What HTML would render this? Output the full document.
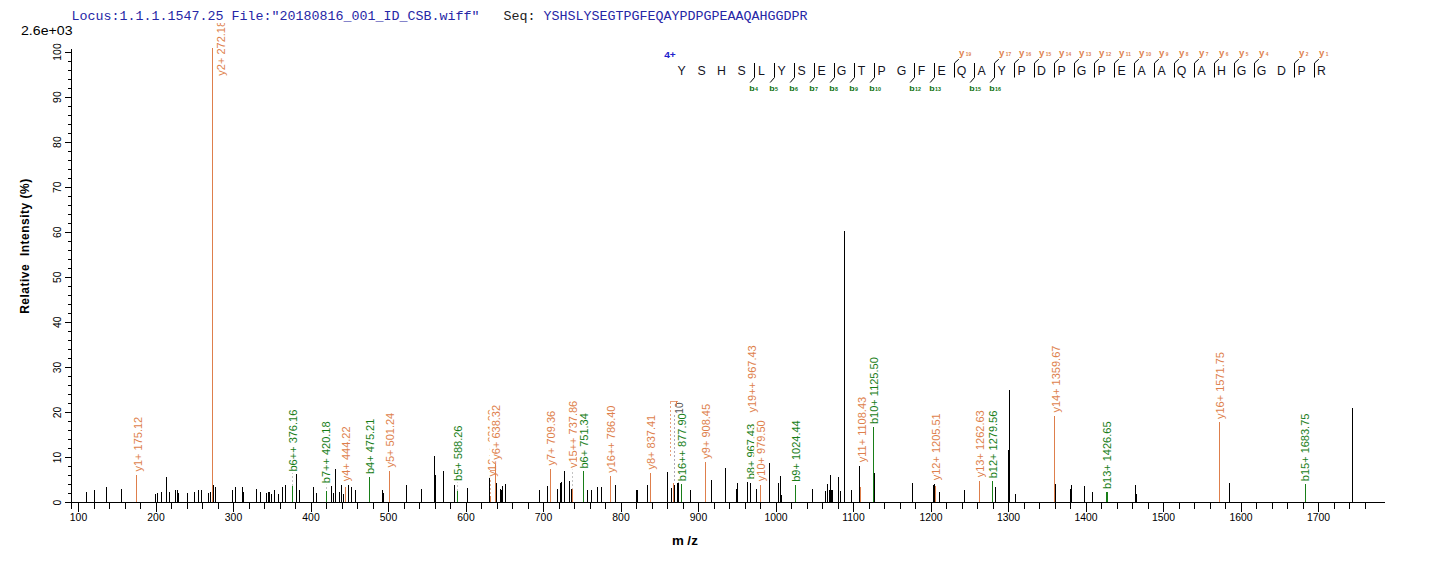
<!DOCTYPE html>
<html><head><meta charset="utf-8"><title>Spectrum</title>
<style>html,body{margin:0;padding:0;background:#fff}svg{display:block}text{font-family:"Liberation Sans",sans-serif}.m{font-family:"Liberation Mono",monospace}</style></head><body>
<svg width="1436" height="562" viewBox="0 0 1436 562">
<rect width="1436" height="562" fill="#fff"/>
<text class="m" x="71.5" y="20" font-size="13.33" fill="#2626a6" xml:space="preserve">Locus:1.1.1.1547.25 File:"20180816_001_ID_CSB.wiff"</text>
<text class="m" x="503.5" y="20" font-size="13.33" fill="#222" xml:space="preserve">Seq:</text>
<text class="m" x="543.5" y="20" font-size="13.33" fill="#2626a6">YSHSLYSEGTPGFEQAYPDPGPEAAQAHGGDPR</text>
<text x="21" y="35" font-size="12" fill="#000" textLength="51.5" lengthAdjust="spacingAndGlyphs">2.6e+03</text>
<g shape-rendering="crispEdges" fill="#000">
<rect x="71" y="49" width="1" height="460"/>
<rect x="65" y="502" width="1320" height="1"/>
<rect x="65" y="502" width="6" height="1"/>
<rect x="68" y="493" width="3" height="1"/>
<rect x="68" y="484" width="3" height="1"/>
<rect x="68" y="475" width="3" height="1"/>
<rect x="68" y="466" width="3" height="1"/>
<rect x="65" y="457" width="6" height="1"/>
<rect x="68" y="448" width="3" height="1"/>
<rect x="68" y="439" width="3" height="1"/>
<rect x="68" y="430" width="3" height="1"/>
<rect x="68" y="421" width="3" height="1"/>
<rect x="65" y="412" width="6" height="1"/>
<rect x="68" y="403" width="3" height="1"/>
<rect x="68" y="394" width="3" height="1"/>
<rect x="68" y="385" width="3" height="1"/>
<rect x="68" y="376" width="3" height="1"/>
<rect x="65" y="367" width="6" height="1"/>
<rect x="68" y="358" width="3" height="1"/>
<rect x="68" y="349" width="3" height="1"/>
<rect x="68" y="340" width="3" height="1"/>
<rect x="68" y="331" width="3" height="1"/>
<rect x="65" y="322" width="6" height="1"/>
<rect x="68" y="313" width="3" height="1"/>
<rect x="68" y="304" width="3" height="1"/>
<rect x="68" y="295" width="3" height="1"/>
<rect x="68" y="286" width="3" height="1"/>
<rect x="65" y="277" width="6" height="1"/>
<rect x="68" y="268" width="3" height="1"/>
<rect x="68" y="259" width="3" height="1"/>
<rect x="68" y="250" width="3" height="1"/>
<rect x="68" y="241" width="3" height="1"/>
<rect x="65" y="232" width="6" height="1"/>
<rect x="68" y="223" width="3" height="1"/>
<rect x="68" y="214" width="3" height="1"/>
<rect x="68" y="205" width="3" height="1"/>
<rect x="68" y="196" width="3" height="1"/>
<rect x="65" y="187" width="6" height="1"/>
<rect x="68" y="178" width="3" height="1"/>
<rect x="68" y="169" width="3" height="1"/>
<rect x="68" y="160" width="3" height="1"/>
<rect x="68" y="151" width="3" height="1"/>
<rect x="65" y="142" width="6" height="1"/>
<rect x="68" y="133" width="3" height="1"/>
<rect x="68" y="124" width="3" height="1"/>
<rect x="68" y="115" width="3" height="1"/>
<rect x="68" y="106" width="3" height="1"/>
<rect x="65" y="97" width="6" height="1"/>
<rect x="68" y="88" width="3" height="1"/>
<rect x="68" y="79" width="3" height="1"/>
<rect x="68" y="70" width="3" height="1"/>
<rect x="68" y="61" width="3" height="1"/>
<rect x="65" y="52" width="6" height="1"/>
<rect x="78" y="502" width="1" height="10"/>
<rect x="94" y="502" width="1" height="7"/>
<rect x="109" y="502" width="1" height="7"/>
<rect x="125" y="502" width="1" height="7"/>
<rect x="140" y="502" width="1" height="7"/>
<rect x="156" y="502" width="1" height="10"/>
<rect x="171" y="502" width="1" height="7"/>
<rect x="187" y="502" width="1" height="7"/>
<rect x="202" y="502" width="1" height="7"/>
<rect x="218" y="502" width="1" height="7"/>
<rect x="233" y="502" width="1" height="10"/>
<rect x="249" y="502" width="1" height="7"/>
<rect x="264" y="502" width="1" height="7"/>
<rect x="280" y="502" width="1" height="7"/>
<rect x="295" y="502" width="1" height="7"/>
<rect x="311" y="502" width="1" height="10"/>
<rect x="326" y="502" width="1" height="7"/>
<rect x="342" y="502" width="1" height="7"/>
<rect x="357" y="502" width="1" height="7"/>
<rect x="373" y="502" width="1" height="7"/>
<rect x="388" y="502" width="1" height="10"/>
<rect x="404" y="502" width="1" height="7"/>
<rect x="419" y="502" width="1" height="7"/>
<rect x="435" y="502" width="1" height="7"/>
<rect x="450" y="502" width="1" height="7"/>
<rect x="466" y="502" width="1" height="10"/>
<rect x="481" y="502" width="1" height="7"/>
<rect x="497" y="502" width="1" height="7"/>
<rect x="512" y="502" width="1" height="7"/>
<rect x="528" y="502" width="1" height="7"/>
<rect x="543" y="502" width="1" height="10"/>
<rect x="559" y="502" width="1" height="7"/>
<rect x="574" y="502" width="1" height="7"/>
<rect x="590" y="502" width="1" height="7"/>
<rect x="605" y="502" width="1" height="7"/>
<rect x="621" y="502" width="1" height="10"/>
<rect x="636" y="502" width="1" height="7"/>
<rect x="652" y="502" width="1" height="7"/>
<rect x="667" y="502" width="1" height="7"/>
<rect x="683" y="502" width="1" height="7"/>
<rect x="698" y="502" width="1" height="10"/>
<rect x="714" y="502" width="1" height="7"/>
<rect x="729" y="502" width="1" height="7"/>
<rect x="745" y="502" width="1" height="7"/>
<rect x="760" y="502" width="1" height="7"/>
<rect x="776" y="502" width="1" height="10"/>
<rect x="791" y="502" width="1" height="7"/>
<rect x="807" y="502" width="1" height="7"/>
<rect x="822" y="502" width="1" height="7"/>
<rect x="838" y="502" width="1" height="7"/>
<rect x="853" y="502" width="1" height="10"/>
<rect x="869" y="502" width="1" height="7"/>
<rect x="884" y="502" width="1" height="7"/>
<rect x="900" y="502" width="1" height="7"/>
<rect x="915" y="502" width="1" height="7"/>
<rect x="931" y="502" width="1" height="10"/>
<rect x="946" y="502" width="1" height="7"/>
<rect x="962" y="502" width="1" height="7"/>
<rect x="977" y="502" width="1" height="7"/>
<rect x="993" y="502" width="1" height="7"/>
<rect x="1008" y="502" width="1" height="10"/>
<rect x="1024" y="502" width="1" height="7"/>
<rect x="1039" y="502" width="1" height="7"/>
<rect x="1055" y="502" width="1" height="7"/>
<rect x="1070" y="502" width="1" height="7"/>
<rect x="1086" y="502" width="1" height="10"/>
<rect x="1101" y="502" width="1" height="7"/>
<rect x="1117" y="502" width="1" height="7"/>
<rect x="1132" y="502" width="1" height="7"/>
<rect x="1148" y="502" width="1" height="7"/>
<rect x="1163" y="502" width="1" height="10"/>
<rect x="1179" y="502" width="1" height="7"/>
<rect x="1194" y="502" width="1" height="7"/>
<rect x="1210" y="502" width="1" height="7"/>
<rect x="1225" y="502" width="1" height="7"/>
<rect x="1241" y="502" width="1" height="10"/>
<rect x="1256" y="502" width="1" height="7"/>
<rect x="1272" y="502" width="1" height="7"/>
<rect x="1287" y="502" width="1" height="7"/>
<rect x="1303" y="502" width="1" height="7"/>
<rect x="1318" y="502" width="1" height="10"/>
<rect x="1334" y="502" width="1" height="7"/>
<rect x="1349" y="502" width="1" height="7"/>
<rect x="1365" y="502" width="1" height="7"/>
</g>
<text transform="translate(61.3,502.5) rotate(-90)" text-anchor="middle" font-size="10.4" fill="#000">0</text>
<text transform="translate(61.3,457.4) rotate(-90)" text-anchor="middle" font-size="10.4" fill="#000">10</text>
<text transform="translate(61.3,412.4) rotate(-90)" text-anchor="middle" font-size="10.4" fill="#000">20</text>
<text transform="translate(61.3,367.4) rotate(-90)" text-anchor="middle" font-size="10.4" fill="#000">30</text>
<text transform="translate(61.3,322.3) rotate(-90)" text-anchor="middle" font-size="10.4" fill="#000">40</text>
<text transform="translate(61.3,277.2) rotate(-90)" text-anchor="middle" font-size="10.4" fill="#000">50</text>
<text transform="translate(61.3,232.2) rotate(-90)" text-anchor="middle" font-size="10.4" fill="#000">60</text>
<text transform="translate(61.3,187.2) rotate(-90)" text-anchor="middle" font-size="10.4" fill="#000">70</text>
<text transform="translate(61.3,142.1) rotate(-90)" text-anchor="middle" font-size="10.4" fill="#000">80</text>
<text transform="translate(61.3,97.1) rotate(-90)" text-anchor="middle" font-size="10.4" fill="#000">90</text>
<text transform="translate(61.3,52.0) rotate(-90)" text-anchor="middle" font-size="10.4" fill="#000">100</text>
<text x="78.5" y="521.4" text-anchor="middle" font-size="10.4" fill="#000">100</text>
<text x="156.0" y="521.4" text-anchor="middle" font-size="10.4" fill="#000">200</text>
<text x="233.5" y="521.4" text-anchor="middle" font-size="10.4" fill="#000">300</text>
<text x="311.0" y="521.4" text-anchor="middle" font-size="10.4" fill="#000">400</text>
<text x="388.5" y="521.4" text-anchor="middle" font-size="10.4" fill="#000">500</text>
<text x="466.0" y="521.4" text-anchor="middle" font-size="10.4" fill="#000">600</text>
<text x="543.5" y="521.4" text-anchor="middle" font-size="10.4" fill="#000">700</text>
<text x="621.0" y="521.4" text-anchor="middle" font-size="10.4" fill="#000">800</text>
<text x="698.5" y="521.4" text-anchor="middle" font-size="10.4" fill="#000">900</text>
<text x="776.0" y="521.4" text-anchor="middle" font-size="10.4" fill="#000">1000</text>
<text x="853.5" y="521.4" text-anchor="middle" font-size="10.4" fill="#000">1100</text>
<text x="931.0" y="521.4" text-anchor="middle" font-size="10.4" fill="#000">1200</text>
<text x="1008.5" y="521.4" text-anchor="middle" font-size="10.4" fill="#000">1300</text>
<text x="1086.0" y="521.4" text-anchor="middle" font-size="10.4" fill="#000">1400</text>
<text x="1163.5" y="521.4" text-anchor="middle" font-size="10.4" fill="#000">1500</text>
<text x="1241.0" y="521.4" text-anchor="middle" font-size="10.4" fill="#000">1600</text>
<text x="1318.5" y="521.4" text-anchor="middle" font-size="10.4" fill="#000">1700</text>
<text transform="translate(28.6,246.3) rotate(-90)" text-anchor="middle" font-size="12" font-weight="bold" fill="#000" xml:space="preserve" textLength="135" lengthAdjust="spacing">Relative  Intensity (%)</text>
<text y="544.5" font-size="13.33" font-weight="bold" fill="#000"><tspan x="672">m</tspan><tspan x="687.2">/</tspan><tspan x="691.3">z</tspan></text>
<g shape-rendering="crispEdges">
<line x1="292.5" y1="471.5" x2="292.5" y2="486.0" stroke="#c4c4c4" stroke-width="1" stroke-dasharray="2,2"/>
<line x1="326.5" y1="483.0" x2="326.5" y2="491.0" stroke="#c4c4c4" stroke-width="1" stroke-dasharray="2,2"/>
<line x1="457.5" y1="481.0" x2="457.5" y2="491.5" stroke="#c4c4c4" stroke-width="1" stroke-dasharray="2,2"/>
<line x1="489.5" y1="455.0" x2="489.5" y2="476.0" stroke="#c4c4c4" stroke-width="1" stroke-dasharray="2,2"/>
<line x1="490.5" y1="476.0" x2="490.5" y2="496.0" stroke="#e8b090" stroke-width="1" stroke-dasharray="2,2"/>
<line x1="572.5" y1="468.0" x2="572.5" y2="489.0" stroke="#c4c4c4" stroke-width="1" stroke-dasharray="2,2"/>
<line x1="674.5" y1="415.0" x2="674.5" y2="482.0" stroke="#b0a8b8" stroke-width="1" stroke-dasharray="2,2"/>
<line x1="670.5" y1="402.0" x2="670.5" y2="457.0" stroke="#e8a07a" stroke-width="1" stroke-dasharray="2,2"/>
<line x1="859.5" y1="466.0" x2="859.5" y2="487.0" stroke="#c4c4c4" stroke-width="1" stroke-dasharray="2,2"/>
<rect x="670" y="401" width="8" height="1" fill="#e8a07a"/>
<rect x="490" y="470" width="6" height="1" fill="#e8a07a"/>
</g>
<g shape-rendering="crispEdges">
<rect x="86" y="492" width="1" height="10" fill="#000"/>
<rect x="94" y="490" width="1" height="12" fill="#000"/>
<rect x="106" y="487" width="1" height="15" fill="#000"/>
<rect x="121" y="489" width="1" height="13" fill="#000"/>
<rect x="136" y="475" width="1" height="27" fill="#de7f4c"/>
<rect x="155" y="494" width="1" height="8" fill="#000"/>
<rect x="157" y="493" width="1" height="9" fill="#000"/>
<rect x="161" y="492" width="1" height="10" fill="#000"/>
<rect x="166" y="477" width="1" height="25" fill="#000"/>
<rect x="169" y="492" width="1" height="10" fill="#000"/>
<rect x="175" y="490" width="1" height="12" fill="#000"/>
<rect x="177" y="490" width="1" height="12" fill="#000"/>
<rect x="178" y="493" width="1" height="9" fill="#000"/>
<rect x="187" y="493" width="1" height="9" fill="#000"/>
<rect x="194" y="492" width="1" height="10" fill="#000"/>
<rect x="198" y="490" width="1" height="12" fill="#000"/>
<rect x="201" y="490" width="1" height="12" fill="#000"/>
<rect x="208" y="493" width="1" height="9" fill="#000"/>
<rect x="210" y="492" width="1" height="10" fill="#000"/>
<rect x="213" y="485" width="1" height="17" fill="#000"/>
<rect x="215" y="487" width="1" height="15" fill="#000"/>
<rect x="212" y="48" width="1" height="454" fill="#de7f4c"/>
<rect x="232" y="490" width="1" height="12" fill="#000"/>
<rect x="235" y="487" width="1" height="15" fill="#000"/>
<rect x="242" y="487" width="1" height="15" fill="#000"/>
<rect x="243" y="492" width="1" height="10" fill="#000"/>
<rect x="256" y="489" width="1" height="13" fill="#000"/>
<rect x="260" y="492" width="1" height="10" fill="#000"/>
<rect x="266" y="493" width="1" height="9" fill="#000"/>
<rect x="268" y="492" width="1" height="10" fill="#000"/>
<rect x="269" y="492" width="1" height="10" fill="#000"/>
<rect x="271" y="494" width="1" height="8" fill="#000"/>
<rect x="274" y="490" width="1" height="12" fill="#000"/>
<rect x="278" y="494" width="1" height="8" fill="#000"/>
<rect x="282" y="487" width="1" height="15" fill="#000"/>
<rect x="285" y="485" width="1" height="17" fill="#000"/>
<rect x="292" y="486" width="1" height="16" fill="#187e18"/>
<rect x="296" y="474" width="1" height="28" fill="#000"/>
<rect x="299" y="490" width="1" height="12" fill="#000"/>
<rect x="313" y="487" width="1" height="15" fill="#000"/>
<rect x="316" y="493" width="1" height="9" fill="#000"/>
<rect x="326" y="491" width="1" height="11" fill="#187e18"/>
<rect x="331" y="486" width="1" height="16" fill="#000"/>
<rect x="333" y="493" width="1" height="9" fill="#000"/>
<rect x="335" y="469" width="1" height="33" fill="#000"/>
<rect x="339" y="492" width="1" height="10" fill="#000"/>
<rect x="341" y="485" width="1" height="17" fill="#000"/>
<rect x="343" y="494" width="1" height="8" fill="#000"/>
<rect x="345" y="487" width="1" height="15" fill="#de7f4c"/>
<rect x="348" y="485" width="1" height="17" fill="#000"/>
<rect x="351" y="487" width="1" height="15" fill="#000"/>
<rect x="355" y="490" width="1" height="12" fill="#000"/>
<rect x="369" y="477" width="1" height="25" fill="#187e18"/>
<rect x="382" y="490" width="1" height="12" fill="#000"/>
<rect x="383" y="493" width="1" height="9" fill="#000"/>
<rect x="389" y="471" width="1" height="31" fill="#de7f4c"/>
<rect x="406" y="485" width="1" height="17" fill="#000"/>
<rect x="421" y="489" width="1" height="13" fill="#000"/>
<rect x="434" y="456" width="1" height="46" fill="#000"/>
<rect x="435" y="475" width="1" height="27" fill="#000"/>
<rect x="443" y="471" width="1" height="31" fill="#000"/>
<rect x="454" y="485" width="1" height="17" fill="#000"/>
<rect x="457" y="491" width="1" height="11" fill="#187e18"/>
<rect x="467" y="488" width="1" height="14" fill="#000"/>
<rect x="489" y="476" width="1" height="26" fill="#000"/>
<rect x="490" y="496" width="1" height="6" fill="#de7f4c"/>
<rect x="495" y="464" width="1" height="38" fill="#de7f4c"/>
<rect x="496" y="483" width="1" height="19" fill="#000"/>
<rect x="500" y="489" width="1" height="13" fill="#000"/>
<rect x="501" y="490" width="1" height="12" fill="#000"/>
<rect x="502" y="486" width="1" height="16" fill="#000"/>
<rect x="505" y="484" width="1" height="18" fill="#000"/>
<rect x="539" y="490" width="1" height="12" fill="#000"/>
<rect x="547" y="486" width="1" height="16" fill="#000"/>
<rect x="550" y="469" width="1" height="33" fill="#de7f4c"/>
<rect x="557" y="489" width="1" height="13" fill="#000"/>
<rect x="560" y="483" width="1" height="19" fill="#000"/>
<rect x="561" y="482" width="1" height="20" fill="#000"/>
<rect x="564" y="471" width="1" height="31" fill="#000"/>
<rect x="569" y="481" width="1" height="21" fill="#000"/>
<rect x="571" y="489" width="1" height="13" fill="#000"/>
<rect x="572" y="489" width="1" height="13" fill="#de7f4c"/>
<rect x="583" y="471" width="1" height="31" fill="#187e18"/>
<rect x="587" y="490" width="1" height="12" fill="#000"/>
<rect x="591" y="490" width="1" height="12" fill="#000"/>
<rect x="597" y="487" width="1" height="15" fill="#000"/>
<rect x="601" y="487" width="1" height="15" fill="#000"/>
<rect x="610" y="476" width="1" height="26" fill="#de7f4c"/>
<rect x="615" y="485" width="1" height="17" fill="#000"/>
<rect x="636" y="490" width="1" height="12" fill="#000"/>
<rect x="637" y="490" width="1" height="12" fill="#000"/>
<rect x="647" y="485" width="1" height="17" fill="#000"/>
<rect x="650" y="473" width="1" height="29" fill="#de7f4c"/>
<rect x="667" y="472" width="1" height="30" fill="#000"/>
<rect x="671" y="488" width="1" height="14" fill="#000"/>
<rect x="673" y="483" width="1" height="19" fill="#de7f4c"/>
<rect x="674" y="485" width="1" height="17" fill="#000"/>
<rect x="677" y="483" width="1" height="19" fill="#000"/>
<rect x="678" y="482" width="1" height="20" fill="#000"/>
<rect x="681" y="484" width="1" height="18" fill="#187e18"/>
<rect x="690" y="490" width="1" height="12" fill="#000"/>
<rect x="705" y="462" width="1" height="40" fill="#de7f4c"/>
<rect x="711" y="480" width="1" height="22" fill="#000"/>
<rect x="725" y="468" width="1" height="34" fill="#000"/>
<rect x="736" y="489" width="1" height="13" fill="#000"/>
<rect x="737" y="483" width="1" height="19" fill="#000"/>
<rect x="747" y="482" width="1" height="20" fill="#000"/>
<rect x="750" y="483" width="1" height="19" fill="#000"/>
<rect x="756" y="489" width="1" height="13" fill="#000"/>
<rect x="760" y="485" width="1" height="17" fill="#de7f4c"/>
<rect x="769" y="463" width="1" height="39" fill="#000"/>
<rect x="778" y="483" width="1" height="19" fill="#000"/>
<rect x="780" y="476" width="1" height="26" fill="#000"/>
<rect x="781" y="495" width="1" height="7" fill="#000"/>
<rect x="795" y="485" width="1" height="17" fill="#187e18"/>
<rect x="812" y="489" width="1" height="13" fill="#000"/>
<rect x="825" y="491" width="1" height="11" fill="#000"/>
<rect x="827" y="484" width="1" height="18" fill="#000"/>
<rect x="829" y="490" width="1" height="12" fill="#000"/>
<rect x="830" y="475" width="1" height="27" fill="#000"/>
<rect x="831" y="490" width="1" height="12" fill="#000"/>
<rect x="832" y="490" width="1" height="12" fill="#000"/>
<rect x="838" y="477" width="1" height="25" fill="#000"/>
<rect x="840" y="491" width="1" height="11" fill="#000"/>
<rect x="844" y="231" width="1" height="271" fill="#000"/>
<rect x="851" y="490" width="1" height="12" fill="#000"/>
<rect x="859" y="466" width="1" height="36" fill="#000"/>
<rect x="860" y="487" width="1" height="15" fill="#de7f4c"/>
<rect x="873" y="427" width="1" height="75" fill="#187e18"/>
<rect x="874" y="473" width="1" height="29" fill="#000"/>
<rect x="912" y="483" width="1" height="19" fill="#000"/>
<rect x="933" y="485" width="1" height="17" fill="#000"/>
<rect x="934" y="484" width="1" height="18" fill="#000"/>
<rect x="935" y="486" width="1" height="16" fill="#de7f4c"/>
<rect x="939" y="492" width="1" height="10" fill="#000"/>
<rect x="964" y="490" width="1" height="12" fill="#000"/>
<rect x="979" y="481" width="1" height="21" fill="#de7f4c"/>
<rect x="992" y="481" width="1" height="21" fill="#187e18"/>
<rect x="995" y="487" width="1" height="15" fill="#000"/>
<rect x="1008" y="450" width="1" height="52" fill="#000"/>
<rect x="1009" y="390" width="1" height="112" fill="#000"/>
<rect x="1015" y="494" width="1" height="8" fill="#000"/>
<rect x="1054" y="416" width="1" height="86" fill="#de7f4c"/>
<rect x="1055" y="484" width="1" height="18" fill="#000"/>
<rect x="1070" y="489" width="1" height="13" fill="#000"/>
<rect x="1071" y="485" width="1" height="17" fill="#000"/>
<rect x="1084" y="486" width="1" height="16" fill="#000"/>
<rect x="1092" y="492" width="1" height="10" fill="#000"/>
<rect x="1106" y="492" width="1" height="10" fill="#187e18"/>
<rect x="1107" y="492" width="1" height="10" fill="#187e18"/>
<rect x="1135" y="485" width="1" height="17" fill="#000"/>
<rect x="1136" y="494" width="1" height="8" fill="#000"/>
<rect x="1219" y="422" width="1" height="80" fill="#de7f4c"/>
<rect x="1229" y="483" width="1" height="19" fill="#000"/>
<rect x="1305" y="484" width="1" height="18" fill="#187e18"/>
<rect x="1352" y="408" width="1" height="94" fill="#000"/>
</g>
<text transform="translate(682.6,419.5) rotate(-90)" font-size="10" fill="#555">+10</text>
<rect x="676" y="401" width="1" height="5" fill="#de7f4c"/>
<rect x="130.8" y="417.3" width="14" height="55.7" fill="#fff"/>
<text transform="translate(141.5,471.5) rotate(-90)" font-size="11.0" fill="#de7f4c">y1+ 175.12</text>
<rect x="286.5" y="410.2" width="14" height="62.8" fill="#fff"/>
<text transform="translate(297.2,471.5) rotate(-90)" font-size="11.0" fill="#187e18">b6++ 376.16</text>
<rect x="319.7" y="421.9" width="14" height="62.8" fill="#fff"/>
<text transform="translate(330.4,483.2) rotate(-90)" font-size="11.0" fill="#187e18">b7++ 420.18</text>
<rect x="339.3" y="427.0" width="14" height="55.7" fill="#fff"/>
<text transform="translate(350.0,481.2) rotate(-90)" font-size="11.0" fill="#de7f4c">y4+ 444.22</text>
<rect x="363.2" y="419.1" width="14" height="56.4" fill="#fff"/>
<text transform="translate(373.9,474.0) rotate(-90)" font-size="11.0" fill="#187e18">b4+ 475.21</text>
<rect x="383.3" y="413.3" width="14" height="55.7" fill="#fff"/>
<text transform="translate(394.0,467.5) rotate(-90)" font-size="11.0" fill="#de7f4c">y5+ 501.24</text>
<rect x="451.3" y="426.0" width="14" height="56.4" fill="#fff"/>
<text transform="translate(462.0,480.9) rotate(-90)" font-size="11.0" fill="#187e18">b5+ 588.26</text>
<rect x="485.1" y="409.6" width="14" height="68.3" fill="#fff"/>
<text transform="translate(495.8,476.4) rotate(-90)" font-size="11.0" fill="#de7f4c">y12++ 631.22</text>
<rect x="489.6" y="405.5" width="14" height="55.7" fill="#fff"/>
<text transform="translate(500.3,459.7) rotate(-90)" font-size="11.0" fill="#de7f4c">y6+ 638.32</text>
<rect x="543.8" y="411.4" width="14" height="55.7" fill="#fff"/>
<text transform="translate(554.5,465.6) rotate(-90)" font-size="11.0" fill="#de7f4c">y7+ 709.36</text>
<rect x="565.8" y="401.3" width="14" height="68.3" fill="#fff"/>
<text transform="translate(576.5,468.1) rotate(-90)" font-size="11.0" fill="#de7f4c">y15++ 737.86</text>
<rect x="577.1" y="413.6" width="14" height="56.4" fill="#fff"/>
<text transform="translate(587.8,468.5) rotate(-90)" font-size="11.0" fill="#187e18">b6+ 751.34</text>
<rect x="604.1" y="406.0" width="14" height="68.3" fill="#fff"/>
<text transform="translate(614.8,472.8) rotate(-90)" font-size="11.0" fill="#de7f4c">y16++ 786.40</text>
<rect x="644.1" y="415.3" width="14" height="55.7" fill="#fff"/>
<text transform="translate(654.8,469.5) rotate(-90)" font-size="11.0" fill="#de7f4c">y8+ 837.41</text>
<rect x="675.0" y="413.8" width="14" height="68.9" fill="#fff"/>
<text transform="translate(685.7,481.2) rotate(-90)" font-size="11.0" fill="#187e18">b16++ 877.90</text>
<rect x="699.1" y="404.5" width="14" height="55.7" fill="#fff"/>
<text transform="translate(709.8,458.7) rotate(-90)" font-size="11.0" fill="#de7f4c">y9+ 908.45</text>
<rect x="744.1" y="424.4" width="14" height="56.4" fill="#fff"/>
<text transform="translate(754.8,479.3) rotate(-90)" font-size="11.0" fill="#187e18">b8+ 967.43</text>
<rect x="744.9" y="345.8" width="14" height="68.3" fill="#fff"/>
<text transform="translate(755.6,412.6) rotate(-90)" font-size="11.0" fill="#de7f4c">y19++ 967.43</text>
<rect x="754.2" y="420.8" width="14" height="61.9" fill="#fff"/>
<text transform="translate(764.9,481.2) rotate(-90)" font-size="11.0" fill="#de7f4c">y10+ 979.50</text>
<rect x="789.1" y="420.8" width="14" height="62.5" fill="#fff"/>
<text transform="translate(799.8,481.8) rotate(-90)" font-size="11.0" fill="#187e18">b9+ 1024.44</text>
<rect x="855.0" y="395.7" width="14" height="68.0" fill="#fff"/>
<text transform="translate(865.7,462.2) rotate(-90)" font-size="11.0" fill="#de7f4c">y11+ 1108.43</text>
<rect x="867.2" y="356.9" width="14" height="68.6" fill="#fff"/>
<text transform="translate(877.9,424.0) rotate(-90)" font-size="11.0" fill="#187e18">b10+ 1125.50</text>
<rect x="929.5" y="413.8" width="14" height="68.0" fill="#fff"/>
<text transform="translate(940.2,480.3) rotate(-90)" font-size="11.0" fill="#de7f4c">y12+ 1205.51</text>
<rect x="973.5" y="410.8" width="14" height="68.0" fill="#fff"/>
<text transform="translate(984.2,477.3) rotate(-90)" font-size="11.0" fill="#de7f4c">y13+ 1262.63</text>
<rect x="986.6" y="411.2" width="14" height="68.6" fill="#fff"/>
<text transform="translate(997.3,478.3) rotate(-90)" font-size="11.0" fill="#187e18">b12+ 1279.56</text>
<rect x="1049.0" y="346.1" width="14" height="68.0" fill="#fff"/>
<text transform="translate(1059.7,412.6) rotate(-90)" font-size="11.0" fill="#de7f4c">y14+ 1359.67</text>
<rect x="1100.7" y="422.0" width="14" height="68.6" fill="#fff"/>
<text transform="translate(1111.4,489.1) rotate(-90)" font-size="11.0" fill="#187e18">b13+ 1426.65</text>
<rect x="1213.5" y="352.5" width="14" height="68.0" fill="#fff"/>
<text transform="translate(1224.2,419.0) rotate(-90)" font-size="11.0" fill="#de7f4c">y16+ 1571.75</text>
<rect x="1298.7" y="414.1" width="14" height="68.6" fill="#fff"/>
<text transform="translate(1309.4,481.2) rotate(-90)" font-size="11.0" fill="#187e18">b15+ 1683.75</text>
<rect x="495" y="464" width="1" height="16" fill="#de7f4c" shape-rendering="crispEdges"/>
<rect x="490" y="470" width="5" height="1" fill="#e8a07a" shape-rendering="crispEdges"/>
<clipPath id="c1"><rect x="200" y="23" width="40" height="60"/></clipPath>
<g clip-path="url(#c1)"><text transform="translate(225.2,75.7) rotate(-90)" font-size="11.0" fill="#de7f4c">y2+ 272.18</text></g>
<text x="681.5" y="74.5" text-anchor="middle" font-size="12.3" fill="#15151f">Y</text>
<text x="701.5" y="74.5" text-anchor="middle" font-size="12.3" fill="#15151f">S</text>
<text x="721.5" y="74.5" text-anchor="middle" font-size="12.3" fill="#15151f">H</text>
<text x="741.5" y="74.5" text-anchor="middle" font-size="12.3" fill="#15151f">S</text>
<text x="761.5" y="74.5" text-anchor="middle" font-size="12.3" fill="#15151f">L</text>
<text x="781.5" y="74.5" text-anchor="middle" font-size="12.3" fill="#15151f">Y</text>
<text x="801.5" y="74.5" text-anchor="middle" font-size="12.3" fill="#15151f">S</text>
<text x="821.5" y="74.5" text-anchor="middle" font-size="12.3" fill="#15151f">E</text>
<text x="841.5" y="74.5" text-anchor="middle" font-size="12.3" fill="#15151f">G</text>
<text x="861.5" y="74.5" text-anchor="middle" font-size="12.3" fill="#15151f">T</text>
<text x="881.5" y="74.5" text-anchor="middle" font-size="12.3" fill="#15151f">P</text>
<text x="901.5" y="74.5" text-anchor="middle" font-size="12.3" fill="#15151f">G</text>
<text x="921.5" y="74.5" text-anchor="middle" font-size="12.3" fill="#15151f">F</text>
<text x="941.5" y="74.5" text-anchor="middle" font-size="12.3" fill="#15151f">E</text>
<text x="961.5" y="74.5" text-anchor="middle" font-size="12.3" fill="#15151f">Q</text>
<text x="981.5" y="74.5" text-anchor="middle" font-size="12.3" fill="#15151f">A</text>
<text x="1001.5" y="74.5" text-anchor="middle" font-size="12.3" fill="#15151f">Y</text>
<text x="1021.5" y="74.5" text-anchor="middle" font-size="12.3" fill="#15151f">P</text>
<text x="1041.5" y="74.5" text-anchor="middle" font-size="12.3" fill="#15151f">D</text>
<text x="1061.5" y="74.5" text-anchor="middle" font-size="12.3" fill="#15151f">P</text>
<text x="1081.5" y="74.5" text-anchor="middle" font-size="12.3" fill="#15151f">G</text>
<text x="1101.5" y="74.5" text-anchor="middle" font-size="12.3" fill="#15151f">P</text>
<text x="1121.5" y="74.5" text-anchor="middle" font-size="12.3" fill="#15151f">E</text>
<text x="1141.5" y="74.5" text-anchor="middle" font-size="12.3" fill="#15151f">A</text>
<text x="1161.5" y="74.5" text-anchor="middle" font-size="12.3" fill="#15151f">A</text>
<text x="1181.5" y="74.5" text-anchor="middle" font-size="12.3" fill="#15151f">Q</text>
<text x="1201.5" y="74.5" text-anchor="middle" font-size="12.3" fill="#15151f">A</text>
<text x="1221.5" y="74.5" text-anchor="middle" font-size="12.3" fill="#15151f">H</text>
<text x="1241.5" y="74.5" text-anchor="middle" font-size="12.3" fill="#15151f">G</text>
<text x="1261.5" y="74.5" text-anchor="middle" font-size="12.3" fill="#15151f">G</text>
<text x="1281.5" y="74.5" text-anchor="middle" font-size="12.3" fill="#15151f">D</text>
<text x="1301.5" y="74.5" text-anchor="middle" font-size="12.3" fill="#15151f">P</text>
<text x="1321.5" y="74.5" text-anchor="middle" font-size="12.3" fill="#15151f">R</text>
<text x="664.2" y="57.6" font-size="8.6" font-weight="bold" fill="#2222cc" textLength="11.6" lengthAdjust="spacingAndGlyphs">4+</text>
<g stroke="#000" stroke-width="1" fill="none">
<path d="M754.5 63 V77.5 L750.2 82.5"/>
<path d="M774.5 63 V77.5 L770.2 82.5"/>
<path d="M794.5 63 V77.5 L790.2 82.5"/>
<path d="M814.5 63 V77.5 L810.2 82.5"/>
<path d="M834.5 63 V77.5 L830.2 82.5"/>
<path d="M854.5 63 V77.5 L850.2 82.5"/>
<path d="M874.5 63 V77.5 L870.2 82.5"/>
<path d="M914.5 63 V77.5 L910.2 82.5"/>
<path d="M934.5 63 V77.5 L930.2 82.5"/>
<path d="M974.5 63 V77.5 L970.2 82.5"/>
<path d="M994.5 63 V77.5 L990.2 82.5"/>
<path d="M954.5 77.5 V63 L958.8 59.2"/>
<path d="M994.5 77.5 V63 L998.8 59.2"/>
<path d="M1014.5 77.5 V63 L1018.8 59.2"/>
<path d="M1034.5 77.5 V63 L1038.8 59.2"/>
<path d="M1054.5 77.5 V63 L1058.8 59.2"/>
<path d="M1074.5 77.5 V63 L1078.8 59.2"/>
<path d="M1094.5 77.5 V63 L1098.8 59.2"/>
<path d="M1114.5 77.5 V63 L1118.8 59.2"/>
<path d="M1134.5 77.5 V63 L1138.8 59.2"/>
<path d="M1154.5 77.5 V63 L1158.8 59.2"/>
<path d="M1174.5 77.5 V63 L1178.8 59.2"/>
<path d="M1194.5 77.5 V63 L1198.8 59.2"/>
<path d="M1214.5 77.5 V63 L1218.8 59.2"/>
<path d="M1234.5 77.5 V63 L1238.8 59.2"/>
<path d="M1254.5 77.5 V63 L1258.8 59.2"/>
<path d="M1294.5 77.5 V63 L1298.8 59.2"/>
<path d="M1314.5 77.5 V63 L1318.8 59.2"/>
</g>
<text transform="translate(749.2,90.8) scale(1.1,1)" font-size="8.1" font-weight="bold" fill="#0f720f">b</text>
<text x="755.0" y="90.8" font-size="5.3" font-weight="bold" fill="#0f720f">4</text>
<text transform="translate(769.2,90.8) scale(1.1,1)" font-size="8.1" font-weight="bold" fill="#0f720f">b</text>
<text x="775.0" y="90.8" font-size="5.3" font-weight="bold" fill="#0f720f">5</text>
<text transform="translate(789.2,90.8) scale(1.1,1)" font-size="8.1" font-weight="bold" fill="#0f720f">b</text>
<text x="795.0" y="90.8" font-size="5.3" font-weight="bold" fill="#0f720f">6</text>
<text transform="translate(809.2,90.8) scale(1.1,1)" font-size="8.1" font-weight="bold" fill="#0f720f">b</text>
<text x="815.0" y="90.8" font-size="5.3" font-weight="bold" fill="#0f720f">7</text>
<text transform="translate(829.2,90.8) scale(1.1,1)" font-size="8.1" font-weight="bold" fill="#0f720f">b</text>
<text x="835.0" y="90.8" font-size="5.3" font-weight="bold" fill="#0f720f">8</text>
<text transform="translate(849.2,90.8) scale(1.1,1)" font-size="8.1" font-weight="bold" fill="#0f720f">b</text>
<text x="855.0" y="90.8" font-size="5.3" font-weight="bold" fill="#0f720f">9</text>
<text transform="translate(869.2,90.8) scale(1.1,1)" font-size="8.1" font-weight="bold" fill="#0f720f">b</text>
<text x="875.0" y="90.8" font-size="5.3" font-weight="bold" fill="#0f720f">10</text>
<text transform="translate(909.2,90.8) scale(1.1,1)" font-size="8.1" font-weight="bold" fill="#0f720f">b</text>
<text x="915.0" y="90.8" font-size="5.3" font-weight="bold" fill="#0f720f">12</text>
<text transform="translate(929.2,90.8) scale(1.1,1)" font-size="8.1" font-weight="bold" fill="#0f720f">b</text>
<text x="935.0" y="90.8" font-size="5.3" font-weight="bold" fill="#0f720f">13</text>
<text transform="translate(969.2,90.8) scale(1.1,1)" font-size="8.1" font-weight="bold" fill="#0f720f">b</text>
<text x="975.0" y="90.8" font-size="5.3" font-weight="bold" fill="#0f720f">15</text>
<text transform="translate(989.2,90.8) scale(1.1,1)" font-size="8.1" font-weight="bold" fill="#0f720f">b</text>
<text x="995.0" y="90.8" font-size="5.3" font-weight="bold" fill="#0f720f">16</text>
<text x="958.9" y="55.6" font-size="9.6" font-weight="bold" fill="#de7f4c">y<tspan font-size="4.8" dx="1.6" dy="0">19</tspan></text>
<text x="998.9" y="55.6" font-size="9.6" font-weight="bold" fill="#de7f4c">y<tspan font-size="4.8" dx="1.6" dy="0">17</tspan></text>
<text x="1018.9" y="55.6" font-size="9.6" font-weight="bold" fill="#de7f4c">y<tspan font-size="4.8" dx="1.6" dy="0">16</tspan></text>
<text x="1038.9" y="55.6" font-size="9.6" font-weight="bold" fill="#de7f4c">y<tspan font-size="4.8" dx="1.6" dy="0">15</tspan></text>
<text x="1058.9" y="55.6" font-size="9.6" font-weight="bold" fill="#de7f4c">y<tspan font-size="4.8" dx="1.6" dy="0">14</tspan></text>
<text x="1078.9" y="55.6" font-size="9.6" font-weight="bold" fill="#de7f4c">y<tspan font-size="4.8" dx="1.6" dy="0">13</tspan></text>
<text x="1098.9" y="55.6" font-size="9.6" font-weight="bold" fill="#de7f4c">y<tspan font-size="4.8" dx="1.6" dy="0">12</tspan></text>
<text x="1118.9" y="55.6" font-size="9.6" font-weight="bold" fill="#de7f4c">y<tspan font-size="4.8" dx="1.6" dy="0">11</tspan></text>
<text x="1138.9" y="55.6" font-size="9.6" font-weight="bold" fill="#de7f4c">y<tspan font-size="4.8" dx="1.6" dy="0">10</tspan></text>
<text x="1158.9" y="55.6" font-size="9.6" font-weight="bold" fill="#de7f4c">y<tspan font-size="4.8" dx="1.6" dy="0">9</tspan></text>
<text x="1178.9" y="55.6" font-size="9.6" font-weight="bold" fill="#de7f4c">y<tspan font-size="4.8" dx="1.6" dy="0">8</tspan></text>
<text x="1198.9" y="55.6" font-size="9.6" font-weight="bold" fill="#de7f4c">y<tspan font-size="4.8" dx="1.6" dy="0">7</tspan></text>
<text x="1218.9" y="55.6" font-size="9.6" font-weight="bold" fill="#de7f4c">y<tspan font-size="4.8" dx="1.6" dy="0">6</tspan></text>
<text x="1238.9" y="55.6" font-size="9.6" font-weight="bold" fill="#de7f4c">y<tspan font-size="4.8" dx="1.6" dy="0">5</tspan></text>
<text x="1258.9" y="55.6" font-size="9.6" font-weight="bold" fill="#de7f4c">y<tspan font-size="4.8" dx="1.6" dy="0">4</tspan></text>
<text x="1298.9" y="55.6" font-size="9.6" font-weight="bold" fill="#de7f4c">y<tspan font-size="4.8" dx="1.6" dy="0">2</tspan></text>
<text x="1318.9" y="55.6" font-size="9.6" font-weight="bold" fill="#de7f4c">y<tspan font-size="4.8" dx="1.6" dy="0">1</tspan></text>
</svg></body></html>
